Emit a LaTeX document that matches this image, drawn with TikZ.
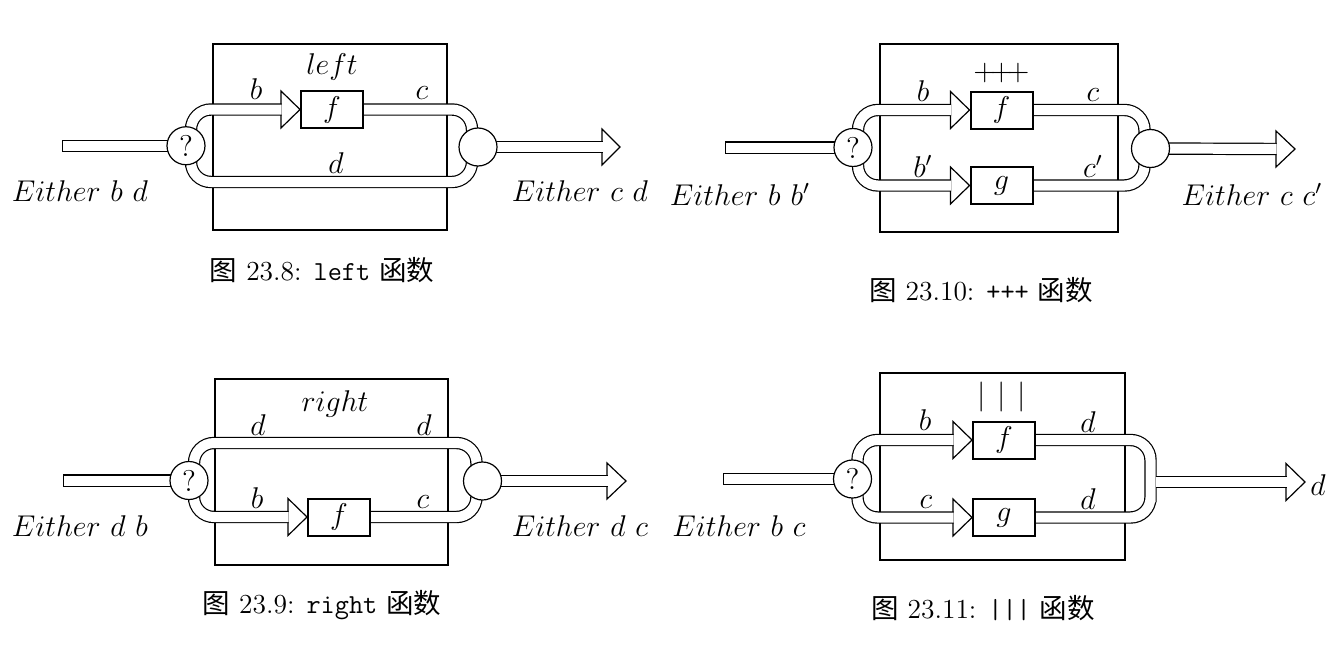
\documentclass[tikz,border=0pt]{standalone}
\usepackage{fontspec}
\newfontfamily\cjk{Noto Sans CJK SC}
\usetikzlibrary{calc}

\pgfdeclarelayer{frames}
\pgfdeclarelayer{pipes}
\pgfsetlayers{frames,pipes,main}

\tikzstyle{outerbox} = [draw, line width=0.8pt]
\tikzstyle{fun} = [draw, fill=white, line width=0.8pt, minimum width=24.8pt, minimum height=14.8pt, inner sep=0pt]
\tikzstyle{junc} = [circle, draw, fill=white, line width=0.48pt, minimum size=15.2pt, inner sep=0pt]
\tikzstyle{pipe} = [double distance=4pt, line width=0.48pt, rounded corners=8pt]
\tikzstyle{headtip} = [draw, fill=white, line width=0.48pt]
\tikzstyle{lbl} = [anchor=base, inner sep=0pt]
\tikzstyle{capt} = [inner sep=0pt, font=\fontsize{11}{13}\selectfont]

\begin{document}
\begin{tikzpicture}[x=0.4pt, y=-0.4pt, font=\fontsize{12}{14}\selectfont]
  \useasboundingbox (0,0) rectangle (1340,660);

  % left
  \node[junc] (q1) at (186,145.75) {?};
  \node[junc] (j1) at (478,147) {};
  \node[fun] (f1) at (332,109.5) {$f$};
  \coordinate (in1) at (68.2,145.75);
  \coordinate (o1) at (602,147);
  \node[lbl] (n1) at (332,74) {$left$};
  \node[lbl] (b1) at (256,100) {$b$};
  \node[lbl] (c1) at (422,100) {$c$};
  \node[lbl] (d1) at (336,173) {$d$};
  \node[lbl] (e1) at (80,201) {$Either\ b\ d$};
  \node[lbl] (r1) at (580,201) {$Either\ c\ d$};
  \node[capt] (t1) at (322,270) {{\cjk 图} 23.8: \texttt{left} {\cjk 函数}};
  \begin{pgfonlayer}{frames}
    \draw[outerbox] (213,44) rectangle (447,230);
  \end{pgfonlayer}
  \begin{pgfonlayer}{pipes}
    \draw[headtip] (f1.west) -- ++(-19,-18.5) -- ++(0,37) -- cycle;
    \draw[headtip] (o1) ++(0,-18) -- ++(18,18) -- ++(-18,18) -- cycle;
    \draw[pipe, line cap=rect] (in1) -- (q1.center);
    \draw[pipe] ($(q1)+(5,0)$) |- ($(f1.west)+(-18.4,0)$);
    \draw[pipe] ($(q1)+(5,0)$) |- (472,182) -- ($(j1)+(-6,0)$);
    \draw[pipe] (f1.east) -| ($(j1)+(-6,0)$);
    \draw[pipe] (j1.center) -- ($(o1)+(0.6,0)$);
  \end{pgfonlayer}

  % right
  \node[junc] (q2) at (189,480.5) {?};
  \node[junc] (j2) at (482.5,481) {};
  \node[fun] (f2) at (339,517) {$f$};
  \coordinate (in2) at (69.2,480.5);
  \coordinate (o2) at (607,481);
  \node[lbl] (n2) at (335,411) {$right$};
  \node[lbl] (d2) at (258,435) {$d$};
  \node[lbl] (dd2) at (424,435) {$d$};
  \node[lbl] (b2) at (257,508) {$b$};
  \node[lbl] (c2) at (423,508) {$c$};
  \node[lbl] (e2) at (80,536) {$Either\ d\ b$};
  \node[lbl] (r2) at (580,536) {$Either\ d\ c$};
  \node[capt] (t2) at (322,605) {{\cjk 图} 23.9: \texttt{right} {\cjk 函数}};
  \begin{pgfonlayer}{frames}
    \draw[outerbox] (215,379) rectangle (448,565);
  \end{pgfonlayer}
  \begin{pgfonlayer}{pipes}
    \draw[headtip] (f2.west) -- ++(-19,-18.5) -- ++(0,37) -- cycle;
    \draw[headtip] (o2) ++(0,-18) -- ++(19,18) -- ++(-19,18) -- cycle;
    \draw[pipe, line cap=rect] (in2) -- (q2.center);
    \draw[pipe] ($(q2)+(5,0)$) |- (476.5,443) -- ($(j2)+(-6,0)$);
    \draw[pipe] ($(q2)+(5,0)$) |- ($(f2.west)+(-18.4,0)$);
    \draw[pipe] (f2.east) -| ($(j2)+(-6,0)$);
    \draw[pipe] (j2.center) -- ($(o2)+(0.6,0)$);
  \end{pgfonlayer}

  % +++
  \node[junc] (q3) at (853,147.5) {?};
  \node[junc] (j3) at (1150.5,148.5) {};
  \node[fun] (f3) at (1001.5,110) {$f$};
  \node[fun] (g3) at (1001.5,185.5) {$g$};
  \coordinate (in3) at (731.2,147.5);
  \coordinate (o3) at (1276,149);
  \node (n3) at (1001.5,73) {$\mathord{+}\mkern-3.7mu\mathord{+}\mkern-3.7mu\mathord{+}$};
  \node[lbl] (b3) at (923,101) {$b$};
  \node[lbl] (bb3) at (923,177) {$b'$};
  \node[lbl] (c3) at (1093,101) {$c$};
  \node[lbl] (cc3) at (1093,177) {$c'$};
  \node[lbl] (e3) at (740,205) {$Either\ b\ b'$};
  \node[lbl] (r3) at (1252,205) {$Either\ c\ c'$};
  \node[capt] (t3) at (981,290) {{\cjk 图} 23.10: \texttt{+++} {\cjk 函数}};
  \begin{pgfonlayer}{frames}
    \draw[outerbox] (880,44) rectangle (1118,232);
  \end{pgfonlayer}
  \begin{pgfonlayer}{pipes}
    \draw[headtip] (f3.west) -- ++(-19,-18.5) -- ++(0,37) -- cycle;
    \draw[headtip] (g3.west) -- ++(-19,-18.5) -- ++(0,37) -- cycle;
    \draw[headtip] (o3) ++(0,-18) -- ++(19,18) -- ++(-19,18) -- cycle;
    \draw[pipe, line cap=rect] (in3) -- (q3.center);
    \draw[pipe] ($(q3)+(5,0)$) |- ($(f3.west)+(-18.4,0)$);
    \draw[pipe] ($(q3)+(5,0)$) |- ($(g3.west)+(-18.4,0)$);
    \draw[pipe] (f3.east) -| ($(j3)+(-6,0)$);
    \draw[pipe] (g3.east) -| ($(j3)+(-6,0)$);
    \draw[pipe] (j3.center) -- ($(o3)+(0.6,0)$);
  \end{pgfonlayer}

  % |||
  \node[junc] (q4) at (852.5,479) {?};
  \node[fun] (f4) at (1004,440) {$f$};
  \node[fun] (g4) at (1004,517.5) {$g$};
  \coordinate (in4) at (729.2,479);
  \coordinate (k4) at (1150.5,482);
  \coordinate (o4) at (1286,482);
  \node (n4) at (1002,397) {$|\mskip7mu|\mskip7mu|$};
  \node[lbl] (b4) at (925,430) {$b$};
  \node[lbl] (c4) at (926,508) {$c$};
  \node[lbl] (d4) at (1088,432) {$d$};
  \node[lbl] (dd4) at (1088,509) {$d$};
  \node[lbl] (r4) at (1318,495) {$d$};
  \node[lbl] (e4) at (739,536) {$Either\ b\ c$};
  \node[capt] (t4) at (983,608) {{\cjk 图} 23.11: \texttt{|||} {\cjk 函数}};
  \begin{pgfonlayer}{frames}
    \draw[outerbox] (880,373) rectangle (1125,560);
  \end{pgfonlayer}
  \begin{pgfonlayer}{pipes}
    \draw[headtip] (f4.west) -- ++(-19,-18.5) -- ++(0,37) -- cycle;
    \draw[headtip] (g4.west) -- ++(-19,-18.5) -- ++(0,37) -- cycle;
    \draw[headtip] (o4) ++(0,-18.5) -- ++(19,18.5) -- ++(-19,18.5) -- cycle;
    \draw[pipe, line cap=rect] (in4) -- (q4.center);
    \draw[pipe] ($(q4)+(5,0)$) |- ($(f4.west)+(-18.4,0)$);
    \draw[pipe] ($(q4)+(5,0)$) |- ($(g4.west)+(-18.4,0)$);
    \draw[pipe] (f4.east) -| (k4) |- (g4.east);
    \draw[pipe] ($(k4)+(5,0)$) -- ($(o4)+(0.6,0)$);
  \end{pgfonlayer}
\end{tikzpicture}
\end{document}
